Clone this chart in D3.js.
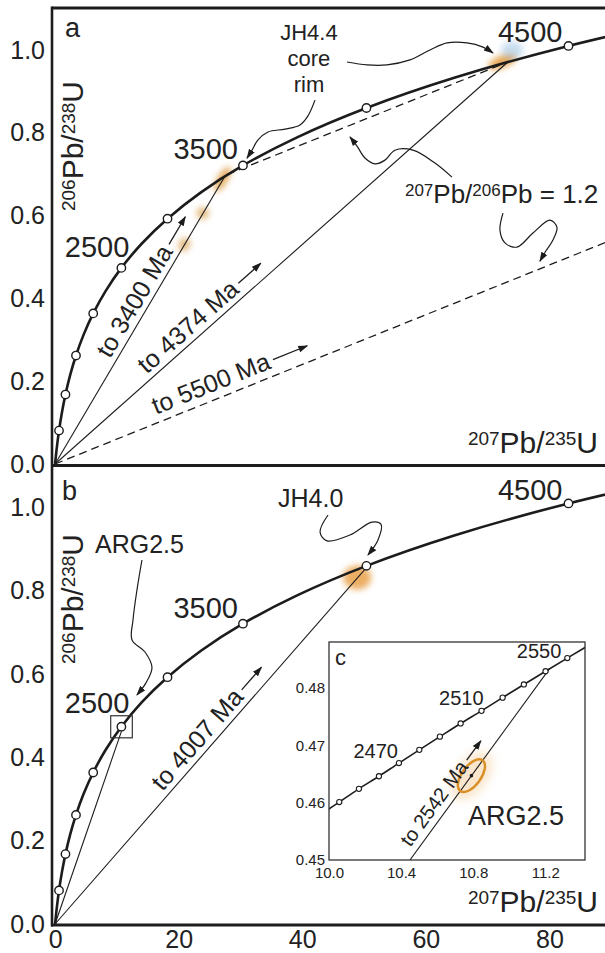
<!DOCTYPE html>
<html><head><meta charset="utf-8">
<script src="https://cdn.jsdelivr.net/npm/d3@7"></script>
<style>
body{margin:0;background:#fff}
svg{display:block}
text{font-family:"Liberation Sans",Arial,Helvetica,sans-serif;fill:#222}
</style>
</head><body>
<svg id="chart" width="605" height="953"></svg>
<script>
// ================= DATA =================
// Concordia curve (age in Ma, 207Pb/235U, 206Pb/238U)
const concAges    = [0,250,500,750,1000,1250,1500,1750,2000,2250,2500,2750,3000,3250,3500,3750,4000,4250,4500,4750];
const conc207_235 = [0,0.2792,0.6362,1.0930,1.6774,2.4249,3.3811,4.6042,6.1688,8.1699,10.7300,14.0047,18.1935,23.552,30.406,39.172,50.39,64.73,83.09,106.56];
const conc206_238 = [0,0.0395,0.0807,0.1234,0.1678,0.2140,0.2620,0.3119,0.3638,0.4177,0.4737,0.5320,0.5926,0.6556,0.7211,0.7891,0.8599,0.9334,1.0098,1.0893];
const markedAges  = [500,1000,1500,2000,2500,3000,3500,4000,4500];
const labelAges   = [2500,3500,4500];

// Inset concordia (10 Ma steps)
const insetAges   = [2430,2440,2450,2460,2470,2480,2490,2500,2510,2520,2530,2540,2550,2560,2570];
const inset207    = [9.948,10.057,10.166,10.277,10.388,10.501,10.615,10.730,10.846,10.963,11.081,11.201,11.322,11.444,11.567];
const inset206    = [0.4578,0.4601,0.4624,0.4646,0.4669,0.4692,0.4715,0.4738,0.4760,0.4783,0.4806,0.4829,0.4852,0.4875,0.4899];
const insetMarked = [2440,2450,2460,2470,2480,2490,2500,2510,2520,2530,2540,2550];
const insetLabelAges = [2470,2510,2550];

// Discordia end points (upper intercept ages)
const discA_labels = ["to 3400 Ma","to 4374 Ma"];
const discA_x      = [27.46,73.27];
const discA_y      = [0.6945,0.9710];
const dash5500     = {label:"to 5500 Ma", x:224.2, y:1.3471};
const dashChord_x  = [27.8,73.27];
const dashChord_y  = [0.699,0.971];
const discB_labels = ["to 4007 Ma","to 2542 Ma"];
const discB_x      = [50.74,11.2246];
const discB_y      = [0.8619,0.4834];

// Analyses
const spotsA_x = [20.9,23.9,27.1,72.4,74.0];
const spotsA_y = [0.530,0.606,0.688,0.972,1.000];
const spotsB_x = [48.9];
const spotsB_y = [0.832];
const argSpot  = {x:10.79, y:0.4647};
const argBox   = {x0:9.0, x1:12.5, y0:0.447, y1:0.500};

// Ticks
const xTicks = [0,20,40,60,80];
const yTicks = [0,0.2,0.4,0.6,0.8,1.0];
const insetXTicks = [10.0,10.4,10.8,11.2];
const insetYTicks = [0.45,0.46,0.47,0.48];

// Annotation leader curves (data coordinates)
const coreArrow = [[47.24,0.971],[50.49,0.964],[53.72,0.964],[57.44,0.976],[60.68,1.000],[63.43,1.017],[66.66,1.017],[69.25,1.007],[70.87,0.993]];
const rimArrow  = [[42.06,0.879],[40.93,0.841],[39.63,0.819],[37.21,0.809],[34.46,0.802],[32.84,0.783],[31.87,0.758],[31.06,0.739]];
const ratioArrowUp = [[64.23,0.693],[61.48,0.727],[57.92,0.758],[55.01,0.758],[53.39,0.734],[51.77,0.725],[50.15,0.739],[48.86,0.768],[47.73,0.790]];
const ratioArrowDn = [[72.49,0.606],[72.0,0.565],[72.81,0.534],[74.76,0.524],[77.34,0.558],[80.09,0.589],[81.22,0.572],[80.58,0.541],[79.45,0.515],[78.47,0.490]];
const jh40Arrow = [[44.17,0.982],[42.88,0.941],[44.0,0.920],[47.72,0.934],[51.29,0.965],[52.74,0.960],[52.26,0.922],[50.64,0.886]];
const argArrow  = [[14.06,0.874],[13.25,0.802],[12.61,0.730],[12.45,0.682],[14.55,0.653],[15.68,0.615],[14.71,0.579],[13.25,0.550]];

// ================= DRAW =================
const INK = "#1c1c1c";
const svg = d3.select("#chart");
const x  = d3.scaleLinear().domain([-0.5,89]).range([52,605]);
const yA = d3.scaleLinear().domain([0,1.1]).range([464,8.6]);
const yB = d3.scaleLinear().domain([0,1.1]).range([924,465.85]);
const ix = d3.scaleLinear().domain([10.0,11.42]).range([329,585]);
const iy = d3.scaleLinear().domain([0.45,0.488]).range([860,642]);

const defs = svg.append("defs");
defs.append("marker").attr("id","arr").attr("viewBox","0 -5 10 10").attr("refX",9).attr("refY",0)
  .attr("markerWidth",10).attr("markerHeight",10).attr("markerUnits","userSpaceOnUse").attr("orient","auto")
  .append("path").attr("d","M0,-3.4L10,0L0,3.4Z").attr("fill",INK);
const fb = defs.append("filter").attr("id","blur").attr("x","-80%").attr("y","-80%").attr("width","260%").attr("height","260%");
fb.append("feGaussianBlur").attr("stdDeviation",3);
const fb2 = defs.append("filter").attr("id","blur2").attr("x","-80%").attr("y","-80%").attr("width","260%").attr("height","260%");
fb2.append("feGaussianBlur").attr("stdDeviation",5);
defs.append("clipPath").attr("id","clipA").append("rect").attr("x",52).attr("y",8).attr("width",553).attr("height",457);
defs.append("clipPath").attr("id","clipB").append("rect").attr("x",52).attr("y",465).attr("width",553).attr("height",460);
defs.append("clipPath").attr("id","clipI").append("rect").attr("x",ix.range()[0]).attr("y",iy.range()[1])
  .attr("width",ix.range()[1]-ix.range()[0]).attr("height",iy.range()[0]-iy.range()[1]);

const conc = concAges.map((a,i)=>({age:a,x:conc207_235[i],y:conc206_238[i]}));
const insetConc = insetAges.map((a,i)=>({age:a,x:inset207[i],y:inset206[i]}));

function supText(g, parts, main, sup, raise){
  const t = g.append("text");
  let up = false;
  parts.forEach(p=>{
    const isSup = p[1];
    let dy = 0;
    if(isSup && !up){dy=-raise; up=true;} else if(!isSup && up){dy=raise; up=false;}
    t.append("tspan").attr("font-size",isSup?sup:main).attr("dy",dy).text(p[0]);
  });
  return t;
}

function lineLabel(g, p0, p1, dist, off, txt, size, arrowLen){
  const dx=p1[0]-p0[0], dy=p1[1]-p0[1], L=Math.hypot(dx,dy), ux=dx/L, uy=dy/L, nx=uy, ny=-ux;
  const ang = Math.atan2(uy,ux)*180/Math.PI;
  const bx=p0[0]+ux*dist+nx*off, by=p0[1]+uy*dist+ny*off;
  const t = g.append("text").attr("transform",`translate(${bx},${by}) rotate(${ang})`)
    .attr("font-size",size).text(txt);
  const tl = t.node().getComputedTextLength();
  const ao = off+size*0.3, s0=dist+tl+4, s1=s0+arrowLen;
  g.append("line")
    .attr("x1",p0[0]+ux*s0+nx*ao).attr("y1",p0[1]+uy*s0+ny*ao)
    .attr("x2",p0[0]+ux*s1+nx*ao).attr("y2",p0[1]+uy*s1+ny*ao)
    .attr("stroke",INK).attr("stroke-width",1.3).attr("marker-end","url(#arr)");
}

function leader(g, pts, y){
  g.append("path").attr("d", d3.line().x(d=>x(d[0])).y(d=>y(d[1])).curve(d3.curveCatmullRom.alpha(0.5))(pts))
    .attr("fill","none").attr("stroke",INK).attr("stroke-width",1.2).attr("marker-end","url(#arr)");
}

function spot(g, cx, cy, rx, ry, rot, color, op, filt){
  g.append("ellipse").attr("cx",0).attr("cy",0).attr("rx",rx).attr("ry",ry)
    .attr("transform",`translate(${cx},${cy}) rotate(${rot})`)
    .attr("fill",color).attr("opacity",op).attr("filter",`url(#${filt||"blur"})`);
}

function concordia(g, y){
  g.append("path").attr("d", d3.line().x(d=>x(d.x)).y(d=>y(d.y)).curve(d3.curveCatmullRom.alpha(0.5))(conc))
    .attr("fill","none").attr("stroke",INK).attr("stroke-width",2.6);
}
function concCircles(g, y){
  g.selectAll("circle.m").data(conc.filter(d=>markedAges.includes(d.age))).join("circle")
    .attr("class","m").attr("cx",d=>x(d.x)).attr("cy",d=>y(d.y)).attr("r",4.2)
    .attr("fill","#fff").attr("stroke",INK).attr("stroke-width",1.4);
}
function ageLabels(g, y, offs){
  g.selectAll("text.age").data(conc.filter(d=>labelAges.includes(d.age))).join("text")
    .attr("class","age").attr("text-anchor","end").attr("font-size",29)
    .attr("x",d=>x(d.x)+offs[d.age][0]).attr("y",d=>y(d.y)+offs[d.age][1]).text(d=>d.age);
}
function yAxis(g, y){
  g.call(d3.axisLeft(y).tickValues(yTicks).tickSize(0).tickPadding(7).tickFormat(d3.format(".1f")))
    .attr("font-family",null).attr("font-size",25);
  g.select(".domain").remove();
  g.selectAll("text").attr("fill","#222");
}
const pbParts = (a,b)=>[[a,true],["Pb/",false],[b,true],["U",false]];

// ---------- Panel a ----------
const A = svg.append("g");
const Ac = A.append("g").attr("clip-path","url(#clipA)");
const spotStyleA = [[7,5.5,-59,"#d9a050",0.75],[6,6,-59,"#d9a050",0.75],[14,5,-59,"#dfa04a",0.9],[15,6,-22,"#e39a3c",0.9],[11,9,0,"#9cc3e6",0.55]];
spotsA_x.forEach((v,i)=>{const s=spotStyleA[i]; spot(Ac, x(v), yA(spotsA_y[i]), s[0], s[1], s[2], s[3], s[4]);});
Ac.append("line").attr("x1",x(0)).attr("y1",yA(0)).attr("x2",x(dash5500.x)).attr("y2",yA(dash5500.y))
  .attr("stroke",INK).attr("stroke-width",1.3).attr("stroke-dasharray","8,5");
Ac.append("line").attr("x1",x(dashChord_x[0])).attr("y1",yA(dashChord_y[0])).attr("x2",x(dashChord_x[1])).attr("y2",yA(dashChord_y[1]))
  .attr("stroke",INK).attr("stroke-width",1.3).attr("stroke-dasharray","8,5");
discA_x.forEach((v,i)=>{
  Ac.append("line").attr("x1",x(0)).attr("y1",yA(0)).attr("x2",x(v)).attr("y2",yA(discA_y[i]))
    .attr("stroke",INK).attr("stroke-width",1.1);
});
concordia(Ac, yA);
concCircles(Ac, yA);
ageLabels(A, yA, {2500:[8,-11],3500:[-5,-6],4500:[-6,-4]});
lineLabel(A,[x(0),yA(0)],[x(discA_x[0]),yA(discA_y[0])],118,6,discA_labels[0],25,32);
lineLabel(A,[x(0),yA(0)],[x(discA_x[1]),yA(discA_y[1])],128,6,discA_labels[1],25,30);
lineLabel(A,[x(0),yA(0)],[x(dash5500.x),yA(dash5500.y)],112,8,dash5500.label,25,37);
A.append("text").attr("x",x(1.60)).attr("y",yA(1.031)).attr("font-size",27).text("a");
A.append("text").attr("x",x(41.09)).attr("y",yA(1.024)).attr("font-size",22).attr("text-anchor","middle").text("JH4.4");
A.append("text").attr("x",x(41.09)).attr("y",yA(0.961)).attr("font-size",22).attr("text-anchor","middle").text("core");
A.append("text").attr("x",x(41.09)).attr("y",yA(0.898)).attr("font-size",22).attr("text-anchor","middle").text("rim");
supText(A,[["207",true],["Pb/",false],["206",true],["Pb = 1.2",false]],26,17,7.5)
  .attr("x",x(56.62)).attr("y",yA(0.630));
leader(A, coreArrow, yA);
leader(A, rimArrow, yA);
leader(A, ratioArrowUp, yA);
leader(A, ratioArrowDn, yA);
yAxis(A.append("g").attr("transform","translate(52,0)"), yA);
supText(A,pbParts("206","238"),30,19,8.5).attr("text-anchor","middle").attr("transform","translate(83,146) rotate(-90)");
supText(A,pbParts("207","235"),30,19,8.5).attr("text-anchor","end").attr("x",598).attr("y",453);

// ---------- Panel b ----------
const B = svg.append("g");
const Bc = B.append("g").attr("clip-path","url(#clipB)");
spot(Bc, x(spotsB_x[0]), yB(spotsB_y[0]), 14, 12, 0, "#e8a048", 0.85, "blur");
discB_x.forEach((v,i)=>{
  Bc.append("line").attr("x1",x(0)).attr("y1",yB(0)).attr("x2",x(v)).attr("y2",yB(discB_y[i]))
    .attr("stroke",INK).attr("stroke-width",1.1);
});
concordia(Bc, yB);
concCircles(Bc, yB);
B.append("rect").attr("x",x(argBox.x0)).attr("y",yB(argBox.y1)).attr("width",x(argBox.x1)-x(argBox.x0))
  .attr("height",yB(argBox.y0)-yB(argBox.y1)).attr("fill","none").attr("stroke","#333").attr("stroke-width",1.2);
ageLabels(B, yB, {2500:[8,-14],3500:[-5,-6],4500:[-6,-3]});
lineLabel(B,[x(0),yB(0)],[x(discB_x[0]),yB(discB_y[0])],170,6,discB_labels[0],25,30);
B.append("text").attr("x",x(1.12)).attr("y",yB(1.018)).attr("font-size",27).text("b");
B.append("text").attr("x",x(36.08)).attr("y",yB(1.001)).attr("font-size",25).text("JH4.0");
B.append("text").attr("x",x(6.46)).attr("y",yB(0.891)).attr("font-size",25).text("ARG2.5");
leader(B, jh40Arrow, yB);
leader(B, argArrow, yB);
yAxis(B.append("g").attr("transform","translate(52,0)"), yB);
supText(B,pbParts("206","238"),30,19,8.5).attr("text-anchor","middle").attr("transform","translate(83,599) rotate(-90)");
supText(B,pbParts("207","235"),30,19,8.5).attr("text-anchor","end").attr("x",598).attr("y",912);
const xAx = B.append("g").attr("transform","translate(0,925)")
  .call(d3.axisBottom(x).tickValues(xTicks).tickSize(0).tickPadding(5).tickFormat(d3.format("d")))
  .attr("font-family",null).attr("font-size",25);
xAx.select(".domain").remove();
xAx.selectAll("text").attr("fill","#222");

// ---------- Inset c ----------
const I = svg.append("g");
I.append("rect").attr("x",ix.range()[0]).attr("y",iy.range()[1]).attr("width",ix.range()[1]-ix.range()[0])
  .attr("height",iy.range()[0]-iy.range()[1]).attr("fill","#fff");
const Ic = I.append("g").attr("clip-path","url(#clipI)");
spot(Ic, ix(argSpot.x), iy(argSpot.y), 28, 16, -54, "#f3c890", 0.45, "blur2");
const slope2542 = discB_y[1]/discB_x[1];
const iStart = [ix(insetYTicks[0]/slope2542), iy(insetYTicks[0])];
const iEnd   = [ix(discB_x[1]), iy(discB_y[1])];
Ic.append("line").attr("x1",iStart[0]).attr("y1",iStart[1]).attr("x2",iEnd[0]).attr("y2",iEnd[1])
  .attr("stroke",INK).attr("stroke-width",1.1);
Ic.append("path").attr("d", d3.line().x(d=>ix(d.x)).y(d=>iy(d.y)).curve(d3.curveCatmullRom)(insetConc))
  .attr("fill","none").attr("stroke",INK).attr("stroke-width",1.6);
Ic.selectAll("circle.im").data(insetConc.filter(d=>insetMarked.includes(d.age))).join("circle")
  .attr("class","im").attr("cx",d=>ix(d.x)).attr("cy",d=>iy(d.y)).attr("r",2.6)
  .attr("fill","#fff").attr("stroke",INK).attr("stroke-width",1.1);
I.append("ellipse").attr("rx",19).attr("ry",9.5)
  .attr("transform",`translate(${ix(argSpot.x)},${iy(argSpot.y)}) rotate(-54)`)
  .attr("fill","none").attr("stroke","#d98f25").attr("stroke-width",2.4);
I.append("circle").attr("cx",ix(argSpot.x)).attr("cy",iy(argSpot.y)).attr("r",1.8).attr("fill",INK);
const iLabOff = {2470:[-1,-5],2510:[2,-6],2550:[-6,0]};
I.selectAll("text.ia").data(insetConc.filter(d=>insetLabelAges.includes(d.age))).join("text")
  .attr("class","ia").attr("text-anchor","end").attr("font-size",20)
  .attr("x",d=>ix(d.x)+iLabOff[d.age][0]).attr("y",d=>iy(d.y)+iLabOff[d.age][1]).text(d=>d.age);
lineLabel(I, iStart, iEnd, 10, 7, discB_labels[1], 20, 24);
I.append("text").attr("x",ix(10.771)).attr("y",iy(0.4561)).attr("font-size",27).text("ARG2.5");
I.append("text").attr("x",ix(10.033)).attr("y",iy(0.4840)).attr("font-size",22).text("c");
I.append("rect").attr("x",ix.range()[0]).attr("y",iy.range()[1]).attr("width",ix.range()[1]-ix.range()[0])
  .attr("height",iy.range()[0]-iy.range()[1]).attr("fill","none").attr("stroke","#333").attr("stroke-width",1.3);
const iyAx = I.append("g").attr("transform",`translate(${ix.range()[0]},0)`)
  .call(d3.axisLeft(iy).tickValues(insetYTicks).tickSize(0).tickPadding(4).tickFormat(d3.format(".2f")))
  .attr("font-family",null).attr("font-size",15);
iyAx.select(".domain").remove();
const ixAx = I.append("g").attr("transform",`translate(0,${iy.range()[0]})`)
  .call(d3.axisBottom(ix).tickValues(insetXTicks).tickSize(0).tickPadding(7).tickFormat(d3.format(".1f")))
  .attr("font-family",null).attr("font-size",15);
ixAx.select(".domain").remove();
I.selectAll("g.tick text").attr("fill","#222");

// ---------- Frame ----------
const F = svg.append("g").attr("stroke",INK).attr("fill","none");
F.append("line").attr("x1",52).attr("x2",605).attr("y1",8).attr("y2",8).attr("stroke-width",3);
F.append("line").attr("x1",52).attr("x2",52).attr("y1",6.5).attr("y2",926.5).attr("stroke-width",2.6);
F.append("line").attr("x1",51).attr("x2",605).attr("y1",465.5).attr("y2",465.5).attr("stroke-width",3.2);
F.append("line").attr("x1",51).attr("x2",605).attr("y1",925).attr("y2",925).attr("stroke-width",3.2);
</script>
</body></html>
